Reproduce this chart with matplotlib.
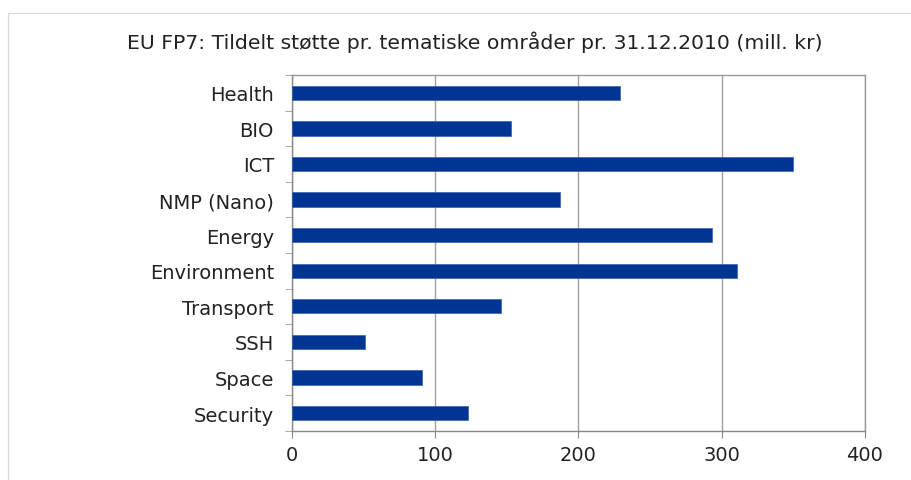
import matplotlib
matplotlib.use("Agg")
import matplotlib.pyplot as plt
from matplotlib.patches import Rectangle

categories = ["Health", "BIO", "ICT", "NMP (Nano)", "Energy", "Environment",
              "Transport", "SSH", "Space", "Security"]
values = [229, 153, 350, 187, 293, 311, 146, 51, 91, 123]
xticks = [0, 100, 200, 300, 400]
title = "EU FP7: Tildelt støtte pr. tematiske områder pr. 31.12.2010 (mill. kr)"

plt.rcParams['font.family'] = ['DejaVu Sans']

fig = plt.figure(figsize=(9.11, 4.81), dpi=100)
fig.patch.set_facecolor("white")
# light outer frame (top and left visible)
fig.patches.append(Rectangle((0.009, -0.1), 1.2, 1.071, transform=fig.transFigure,
                             facecolor="none", edgecolor="#dcdcdc", linewidth=1.0, zorder=0))

ax = fig.add_axes([0.3205, 0.102, 0.629, 0.740])
n = len(categories)
pos = list(range(n))
ax.barh(pos, values, height=0.4, color="#003594", edgecolor="#3a5fb0", linewidth=0.5, zorder=3)
ax.set_ylim(n - 0.5, -0.5)
ax.set_xlim(0, 400)
ax.set_xticks(xticks)
ax.set_xticklabels([str(t) for t in xticks], fontsize=14, color="#222222")
ax.set_yticks(pos)
ax.set_yticklabels(categories, fontsize=14, color="#222222")
ax.tick_params(axis="y", length=0, pad=13)
ax.tick_params(axis="x", length=5, color="#888888", direction="out", pad=5)
# minor ticks at category boundaries
ax.set_yticks([i - 0.5 for i in range(n + 1)], minor=True)
ax.tick_params(axis="y", which="minor", length=5, color="#999999", direction="out")
ax.xaxis.grid(True, color="#a0a0a0", linewidth=1.0, zorder=0)
ax.set_axisbelow(True)
for s in ax.spines.values():
    s.set_color("#888888")
    s.set_linewidth(1.0)
ax.spines["top"].set_color("#999999")
ax.spines["right"].set_color("#999999")

fig.text(0.521, 0.912, title, ha="center", va="center", fontsize=14.7, color="#222222")

fig.savefig("out.png", dpi=100)
